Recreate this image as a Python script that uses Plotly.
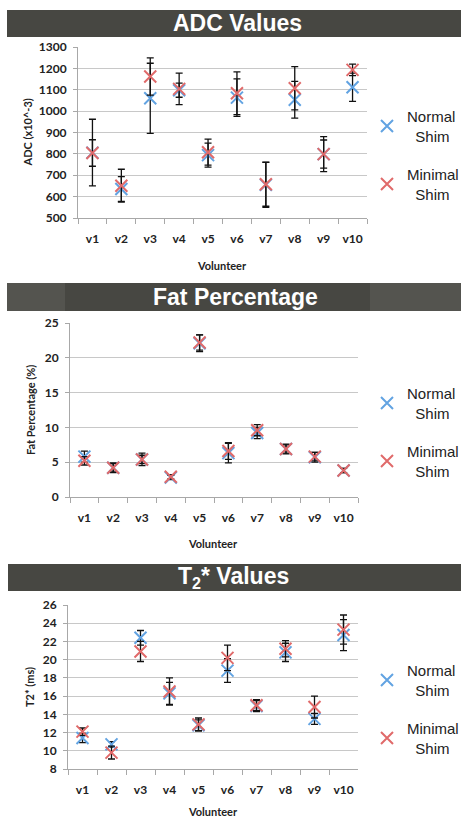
import plotly.graph_objects as go

W, H = 461, 818

volunteers = ["v1", "v2", "v3", "v4", "v5", "v6", "v7", "v8", "v9", "v10"]

adc_normal = [806, 636, 1060, 1098, 794, 1063, 655, 1053, 799, 1112]
adc_normal_err = [156, 58, 164, 33, 56, 88, 105, 86, 66, 66]
adc_minimal = [804, 651, 1162, 1104, 808, 1084, 658, 1107, 799, 1193]
adc_minimal_err = [62, 77, 87, 74, 61, 100, 103, 101, 82, 27]

fat_normal = [5.8, 4.2, 5.4, 2.8, 22.1, 6.3, 9.2, 6.9, 5.7, 3.8]
fat_normal_err = [0.8, 0.7, 0.9, 0.3, 1.2, 1.4, 0.8, 0.7, 0.7, 0.3]
fat_minimal = [5.2, 4.2, 5.4, 2.9, 22.2, 6.6, 9.6, 6.9, 5.8, 3.8]
fat_minimal_err = [0.6, 0.6, 0.6, 0.3, 1.1, 1.2, 0.8, 0.6, 0.6, 0.3]

t2_normal = [11.4, 10.7, 22.4, 16.3, 12.8, 18.8, 14.9, 20.8, 13.5, 22.7]
t2_normal_err = [0.5, 0.3, 0.8, 1.2, 0.6, 1.3, 0.6, 1.0, 0.6, 1.7]
t2_minimal = [12.1, 9.8, 20.9, 16.5, 12.9, 20.2, 15.0, 21.2, 14.8, 23.3]
t2_minimal_err = [0.4, 0.7, 1.1, 1.5, 0.7, 1.4, 0.6, 0.9, 1.2, 1.6]

NB = "\u00a0"
series_names = ["Normal<br>" + NB * 2 + "Shim", "Minimal<br>" + NB * 2 + "Shim"]
titles = ["ADC Values", "Fat Percentage", "T<sub>2</sub>* Values"]
ytitles = ["ADC (x10^-3)", "Fat Percentage (%)", "T2* (ms)"]
yranges = [[500, 1300], [0, 25], [8, 26]]
ydticks = [100, 5, 2]

BLUE = "#62a3e2"
RED = "#e06a6a"
BAR = "#474742"
BAR_LIGHT = "#54544f"


def px(x):
    return x / W


def py(y):
    return 1 - y / H


# plot area pixel boxes (left, right, top, bottom)
boxes = [(78, 367, 47, 218), (70, 358, 323, 497), (68, 358, 605, 769)]
bars = [(7, 10, 37), (7, 283, 311), (8, 564, 591)]
title_cx = [237, 235, 233]
legend_top = [100, 377, 654]
xtitle_pos = [(222, 265), (213, 543), (213, 811)]
ytitle_x = [27, 30, 29]

panels = [
    (adc_normal, adc_normal_err, adc_minimal, adc_minimal_err),
    (fat_normal, fat_normal_err, fat_minimal, fat_minimal_err),
    (t2_normal, t2_normal_err, t2_minimal, t2_minimal_err),
]

fig = go.Figure()
TICKFONT = dict(family="Lato", size=12, color="#222222", weight="bold")
shapes = []
annotations = []
layout = {}

for i, (nv, ne, mv, me) in enumerate(panels):
    k = "" if i == 0 else str(i + 1)
    leg = "legend" if i == 0 else "legend" + str(i + 1)
    for j, (vals, errs, col) in enumerate([(nv, ne, BLUE), (mv, me, RED)]):
        fig.add_trace(go.Scatter(
            x=volunteers, y=vals, mode="markers",
            name=series_names[j],
            xaxis="x" + k, yaxis="y" + k,
            legend=leg, legendgroup=f"g{i}{j}",
            marker=dict(symbol="x-thin", size=12, line=dict(width=2, color=col), color=col),
            error_y=dict(type="data", array=errs, color="#111111", thickness=1.3, width=3.5),
            cliponaxis=False,
        ))
    l, r, t, b = boxes[i]
    layout["xaxis" + k] = dict(
        domain=[px(l), px(r)], anchor="y" + k, type="category",
        range=[-0.5, 9.5], showgrid=False, showline=True, linecolor="#a8a8a8",
        ticks="outside", tickson="boundaries", ticklen=5, tickcolor="#a8a8a8",
        tickfont=TICKFONT, tickangle=0, ticklabelstandoff=10, fixedrange=True,
    )
    layout["yaxis" + k] = dict(
        domain=[py(b), py(t)], anchor="x" + k, range=yranges[i], dtick=ydticks[i],
        showgrid=True, gridcolor="#c8c8c8", gridwidth=1, zeroline=False,
        showline=True, linecolor="#a8a8a8", ticks="outside", ticklen=4,
        tickcolor="#a8a8a8", tickfont=TICKFONT, ticklabelstandoff=4, fixedrange=True,
    )
    layout[leg] = dict(
        x=px(367), y=py(legend_top[i]), xanchor="left", yanchor="top",
        font=dict(family="Liberation Sans", size=15, color="#222222"),
        traceorder="grouped", tracegroupgap=16, bgcolor="rgba(0,0,0,0)",
        itemsizing="constant",
    )
    bx0, by0, by1 = bars[i]
    if i == 1:
        shapes.append(dict(type="rect", xref="paper", yref="paper",
                           x0=px(bx0), x1=1, y0=py(by1), y1=py(by0),
                           fillcolor=BAR_LIGHT, line=dict(width=0), layer="below"))
        shapes.append(dict(type="rect", xref="paper", yref="paper",
                           x0=px(65), x1=px(370), y0=py(by1), y1=py(by0),
                           fillcolor=BAR, line=dict(width=0), layer="below"))
    else:
        shapes.append(dict(type="rect", xref="paper", yref="paper",
                           x0=px(bx0), x1=1, y0=py(by1), y1=py(by0),
                           fillcolor=BAR, line=dict(width=0), layer="below"))
    annotations.append(dict(text="<b>" + titles[i] + "</b>", xref="paper", yref="paper",
                            x=px(title_cx[i]), y=py((by0 + by1) / 2), showarrow=False,
                            xanchor="center", yanchor="middle",
                            font=dict(family="Liberation Sans", size=23, color="white")))
    tx, ty = xtitle_pos[i]
    annotations.append(dict(text="<b>Volunteer</b>", xref="paper", yref="paper",
                            x=px(tx), y=py(ty), showarrow=False,
                            xanchor="center", yanchor="middle",
                            font=dict(family="Lato", size=11, color="#222222")))
    annotations.append(dict(text="<b>" + ytitles[i] + "</b>", xref="paper", yref="paper",
                            x=px(ytitle_x[i]), y=py((t + b) / 2), showarrow=False,
                            textangle=-90, xanchor="center", yanchor="middle",
                            font=dict(family="Lato", size=11, color="#222222")))

fig.update_layout(
    width=W, height=H,
    margin=dict(l=0, r=0, t=0, b=0, pad=0, autoexpand=False),
    paper_bgcolor="white", plot_bgcolor="white",
    shapes=shapes, annotations=annotations, showlegend=True,
    **layout,
)

fig.write_html(
    "out.html",
    config={"displayModeBar": False},
    post_script="document.body.style.margin='0';document.body.style.padding='0';"
                "document.body.style.overflow='hidden';",
)
